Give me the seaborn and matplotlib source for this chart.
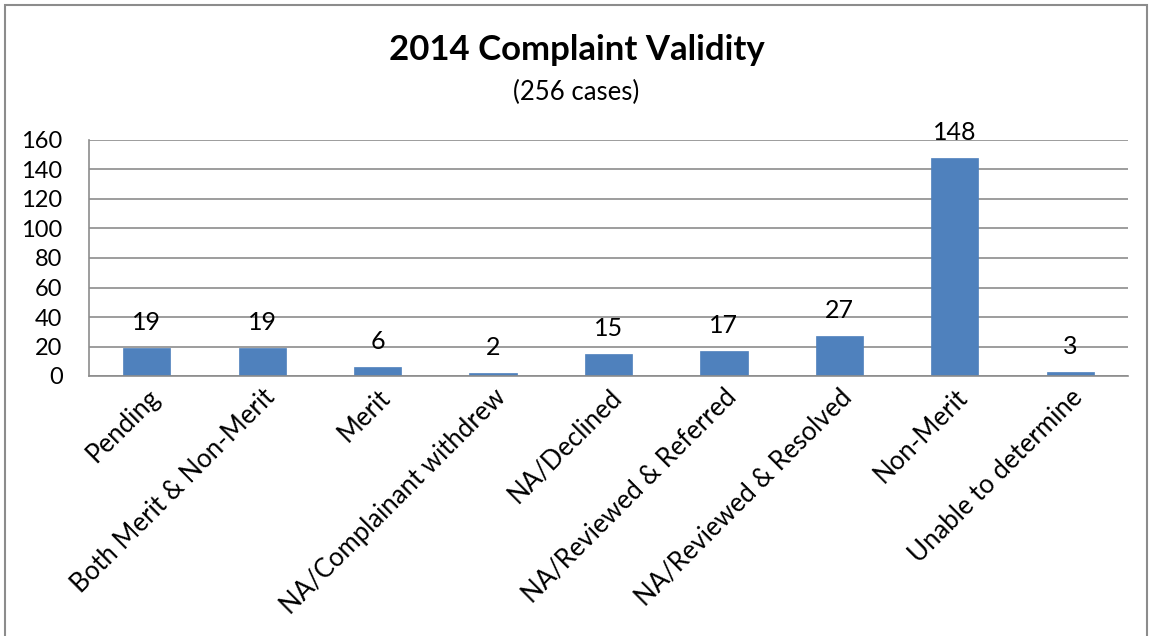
import matplotlib
matplotlib.use("Agg")
import matplotlib.pyplot as plt
import seaborn as sns
import pandas as pd
from matplotlib.patches import Rectangle

categories = ["Pending", "Both Merit & Non-Merit", "Merit", "NA/Complainant withdrew",
              "NA/Declined", "NA/Reviewed & Referred", "NA/Reviewed & Resolved",
              "Non-Merit", "Unable to determine"]
counts = [19, 19, 6, 2, 15, 17, 27, 148, 3]
yticks = [0, 20, 40, 60, 80, 100, 120, 140, 160]
title = "2014 Complaint Validity"
subtitle = "(256 cases)"

sns.set_theme(style="white")
plt.rcParams['font.family'] = ['Lato', 'DejaVu Sans']
plt.rcParams['text.color'] = 'black'
plt.rcParams['xtick.color'] = 'black'
plt.rcParams['ytick.color'] = 'black'

df = pd.DataFrame({"cat": categories, "n": counts})
W, H = 1153, 636
fig = plt.figure(figsize=(W / 100, H / 100), dpi=100)
fig.patch.set_facecolor("white")
ax = fig.add_axes([89 / W, 1 - 376 / H, (1128 - 89) / W, (376 - 140) / H])

sns.barplot(data=df, x="cat", y="n", color="#4F81BD", width=0.41, ax=ax,
            saturation=1, edgecolor="#4F81BD", linewidth=0.5)
ax.set_ylim(0, 160)
ax.set_xlim(-0.5, len(categories) - 0.5)
ax.set_yticks(yticks)
ax.set_yticklabels([str(v) for v in yticks], fontsize=17)
ax.yaxis.grid(True, color="#8C8C8C", linewidth=1.2)
ax.set_axisbelow(True)
ax.set_xlabel("")
ax.set_ylabel("")
ax.tick_params(axis="y", length=0, pad=19, labelcolor="black")
ax.tick_params(axis="x", length=0, pad=6, labelcolor="black")
ax.set_xticks(range(len(categories)))
ax.set_xticklabels(categories, rotation=45, ha="right", rotation_mode="anchor", fontsize=18.5)
for s in ["top", "right"]:
    ax.spines[s].set_visible(False)
for s in ["left", "bottom"]:
    ax.spines[s].set_color("#8C8C8C")
    ax.spines[s].set_linewidth(1.2)
ax.bar_label(ax.containers[0], labels=[str(v) for v in counts], padding=10, fontsize=18,
             color="black")

fig.text(0.5, 1 - 50 / H, title, ha="center", va="center", fontsize=25, fontweight="bold",
         color="black")
fig.text(0.5, 1 - 92 / H, subtitle, ha="center", va="center", fontsize=18.5, color="black")

fig.add_artist(Rectangle((5 / W, -0.01), (1147 - 5) / W, 1 - 5 / H + 0.01,
                         transform=fig.transFigure, fill=False,
                         edgecolor="#8C8C8C", linewidth=1.5))

fig.savefig("out.png", dpi=100)
